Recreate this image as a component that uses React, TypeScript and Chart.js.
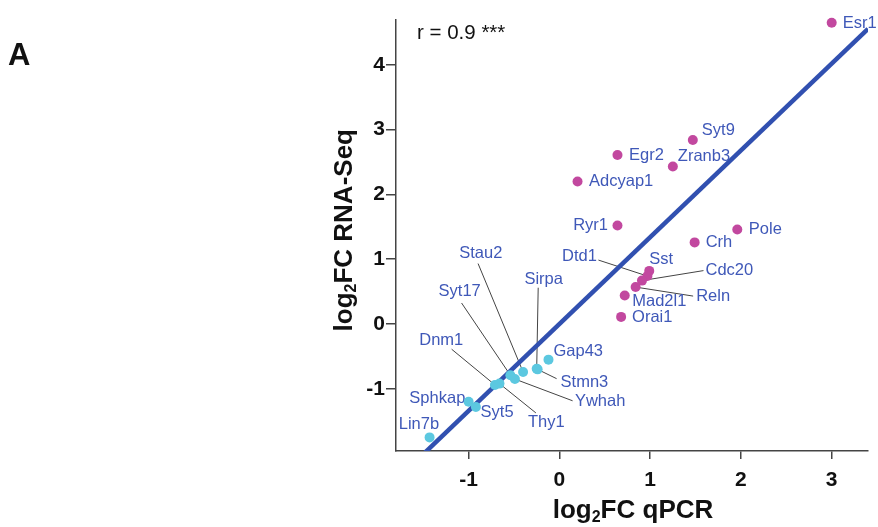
import React, { useEffect, useRef } from "react";
import { Chart, registerables } from "chart.js";

Chart.register(...registerables);

// ---------- data ----------
const upGenes = ["Esr1", "Syt9", "Egr2", "Zranb3", "Adcyap1", "Ryr1", "Pole", "Crh", "Sst", "Dtd1", "Cdc20", "Reln", "Mad2l1", "Orai1"];
const upQpcr = [3.0, 1.47, 0.64, 1.25, 0.2, 0.64, 1.96, 1.49, 0.99, 0.97, 0.91, 0.84, 0.72, 0.68];
const upRnaSeq = [4.65, 2.84, 2.61, 2.43, 2.2, 1.52, 1.46, 1.26, 0.82, 0.74, 0.67, 0.57, 0.44, 0.11];

const downGenes = ["Gap43", "Sirpa", "Stmn3", "Stau2", "Syt17", "Ywhah", "Dnm1", "Thy1", "Sphkap", "Syt5", "Lin7b"];
const downQpcr = [-0.12, -0.25, -0.24, -0.4, -0.54, -0.49, -0.71, -0.66, -1.0, -0.92, -1.43];
const downRnaSeq = [-0.55, -0.69, -0.7, -0.74, -0.79, -0.85, -0.94, -0.92, -1.2, -1.28, -1.75];

const xTicks = [-1, 0, 1, 2, 3];
const yTicks = [-1, 0, 1, 2, 3, 4];
const xRange = [-1.8, 3.4];
const yRange = [-1.96, 4.7];
const fitSlope = 1.34;
const fitIntercept = 0;

const correlationText = "r = 0.9 ***";
const panelLetter = "A";
const xTitle = ["log", "2", "FC qPCR"];
const yTitle = ["log", "2", "FC RNA-Seq"];

// ---------- styles / layout ----------
const FONT = "'Liberation Sans', Arial, Helvetica, sans-serif";
const UP_COLOR = "#c2489f";
const DOWN_COLOR = "#5cc8e0";
const FIT_COLOR = "#3150b0";
const LABEL_COLOR = "#3f58b8";
const AXIS_COLOR = "#444";

// label offsets in px relative to the point: [dx, dy, align, leaderDx?, leaderDy?]
type Place = [number, number, CanvasTextAlign, number?, number?];
const labelPlacement: Record<string, Place> = {
  Esr1: [11, 1, "left"],
  Syt9: [9, -10, "left"],
  Egr2: [11.5, 0.5, "left"],
  Zranb3: [5, -10.5, "left"],
  Adcyap1: [11.5, 0, "left"],
  Ryr1: [-9.5, 0, "right"],
  Pole: [11.5, 0, "left"],
  Crh: [11, 0.5, "left"],
  Sst: [0, -11, "left"],
  Dtd1: [-50.5, -19.5, "right", -49, -16],
  Cdc20: [63.5, -10, "left", 61.5, -10],
  Reln: [60.5, 9.5, "left", 57.5, 9],
  Mad2l1: [7.5, 6.2, "left"],
  Orai1: [11, 0.3, "left"],
  Gap43: [5, -8.5, "left"],
  Sirpa: [7, -89.5, "center", 1.5, -81],
  Stmn3: [23, 13.5, "left", 19, 9.3],
  Stau2: [-42.3, -119, "center", -45, -108.4],
  Syt17: [-50.7, -83.3, "center", -48.8, -72.2],
  Ywhah: [60, 22.4, "left", 57.7, 21.7],
  Dnm1: [-53.7, -44.5, "center", -43.3, -35.7],
  Thy1: [28.4, 38.5, "left", 36.4, 29.3],
  Sphkap: [-3.3, -3, "right"],
  Syt5: [4.7, 5.7, "left"],
  Lin7b: [-10.7, -12.7, "center"],
};

function drawSubTitle(ctx: CanvasRenderingContext2D, parts: string[], size: number, subSize: number, subDrop: number) {
  const main = `bold ${size}px ${FONT}`;
  const sub = `bold ${subSize}px ${FONT}`;
  ctx.font = main;
  const w0 = ctx.measureText(parts[0]).width;
  const w2 = ctx.measureText(parts[2]).width;
  ctx.font = sub;
  const w1 = ctx.measureText(parts[1]).width;
  const total = w0 + w1 + w2;
  let x = -total / 2;
  ctx.textAlign = "left";
  ctx.textBaseline = "alphabetic";
  ctx.font = main;
  ctx.fillText(parts[0], x, 0);
  x += w0;
  ctx.font = sub;
  ctx.fillText(parts[1], x, subDrop);
  x += w1;
  ctx.font = main;
  ctx.fillText(parts[2], x, 0);
}

const annotationPlugin = {
  id: "annotations",
  beforeDatasetsDraw(chart: any) {
    const ctx: CanvasRenderingContext2D = chart.ctx;
    const xs = chart.scales.x;
    const ys = chart.scales.y;
    const groups: [string[], number[], number[]][] = [
      [upGenes, upQpcr, upRnaSeq],
      [downGenes, downQpcr, downRnaSeq],
    ];
    ctx.save();
    // leader lines
    ctx.strokeStyle = "#444";
    ctx.lineWidth = 1;
    for (const [names, xv, yv] of groups) {
      names.forEach((n, i) => {
        const p = labelPlacement[n];
        if (!p || p[3] === undefined) return;
        const px = xs.getPixelForValue(xv[i]);
        const py = ys.getPixelForValue(yv[i]);
        ctx.beginPath();
        ctx.moveTo(px + (p[3] as number), py + (p[4] as number));
        ctx.lineTo(px, py);
        ctx.stroke();
      });
    }
    // labels
    ctx.fillStyle = LABEL_COLOR;
    ctx.font = `16.5px ${FONT}`;
    ctx.textBaseline = "middle";
    for (const [names, xv, yv] of groups) {
      names.forEach((n, i) => {
        const p = labelPlacement[n] || [10, 0, "left"];
        const px = xs.getPixelForValue(xv[i]);
        const py = ys.getPixelForValue(yv[i]);
        ctx.textAlign = p[2];
        ctx.fillText(n, px + p[0], py + p[1]);
      });
    }
    ctx.restore();
  },
  afterDraw(chart: any) {
    const ctx: CanvasRenderingContext2D = chart.ctx;
    const area = chart.chartArea;
    ctx.save();
    ctx.fillStyle = "#111";
    // panel letter
    ctx.font = `bold 31px ${FONT}`;
    ctx.textAlign = "left";
    ctx.textBaseline = "alphabetic";
    ctx.fillText(panelLetter, 8, 65);
    // correlation
    ctx.font = `20.5px ${FONT}`;
    ctx.fillText(correlationText, area.left + 21, 39);
    // x title
    ctx.save();
    ctx.translate((area.left + area.right) / 2 + 1, 518);
    drawSubTitle(ctx, xTitle, 26, 16, 4);
    ctx.restore();
    // y title
    ctx.save();
    ctx.translate(352, (area.top + area.bottom) / 2 - 5);
    ctx.rotate(-Math.PI / 2);
    drawSubTitle(ctx, yTitle, 26, 16, 4);
    ctx.restore();
    ctx.restore();
  },
};

export default function App() {
  const ref = useRef<HTMLCanvasElement | null>(null);
  useEffect(() => {
    if (!ref.current) return;
    const chart = new Chart(ref.current, {
      type: "scatter",
      data: {
        datasets: [
          {
            label: "down",
            data: downQpcr.map((x, i) => ({ x, y: downRnaSeq[i] })),
            backgroundColor: DOWN_COLOR,
            borderWidth: 0,
            pointRadius: 5,
            clip: false,
            order: 0,
          } as any,
          {
            label: "up",
            data: upQpcr.map((x, i) => ({ x, y: upRnaSeq[i] })),
            backgroundColor: UP_COLOR,
            borderWidth: 0,
            pointRadius: 5,
            clip: false,
            order: 1,
          } as any,
          {
            type: "line",
            label: "fit",
            data: xRange.map((x) => ({ x, y: fitSlope * x + fitIntercept })),
            borderColor: FIT_COLOR,
            borderWidth: 4.5,
            pointRadius: 0,
            showLine: true,
            fill: false,
            clip: 0,
            order: 2,
          } as any,
        ],
      },
      options: {
        animation: false,
        responsive: false,
        layout: { padding: { top: 19.5, right: 10, left: 0, bottom: 0 } },
        plugins: { legend: { display: false }, tooltip: { enabled: false } },
        scales: {
          x: {
            type: "linear",
            min: xRange[0],
            max: xRange[1],
            afterBuildTicks: (s: any) => {
              s.ticks = xTicks.map((v) => ({ value: v }));
            },
            afterFit: (s: any) => {
              s.height = 76;
            },
            grid: { drawOnChartArea: false, drawTicks: true, tickLength: 8, color: AXIS_COLOR, lineWidth: 1.5 },
            border: { display: true, color: AXIS_COLOR, width: 1.5 },
            ticks: { font: { family: FONT, size: 21, weight: "bold" }, color: "#111", padding: 9, maxRotation: 0 },
          },
          y: {
            type: "linear",
            min: yRange[0],
            max: yRange[1],
            afterBuildTicks: (s: any) => {
              s.ticks = yTicks.map((v) => ({ value: v }));
            },
            afterFit: (s: any) => {
              s.width = 396;
            },
            grid: { drawOnChartArea: false, drawTicks: true, tickLength: 10, color: AXIS_COLOR, lineWidth: 1.5 },
            border: { display: true, color: AXIS_COLOR, width: 1.5 },
            ticks: { font: { family: FONT, size: 21, weight: "bold" }, color: "#111", padding: 1 },
          },
        },
      } as any,
      plugins: [annotationPlugin],
    });
    return () => chart.destroy();
  }, []);
  return (
    <div style={{ position: "fixed", left: 0, top: 0, width: 878, height: 527, background: "#fff" }}>
      <canvas ref={ref} width={878} height={527} style={{ display: "block" }} />
    </div>
  );
}
